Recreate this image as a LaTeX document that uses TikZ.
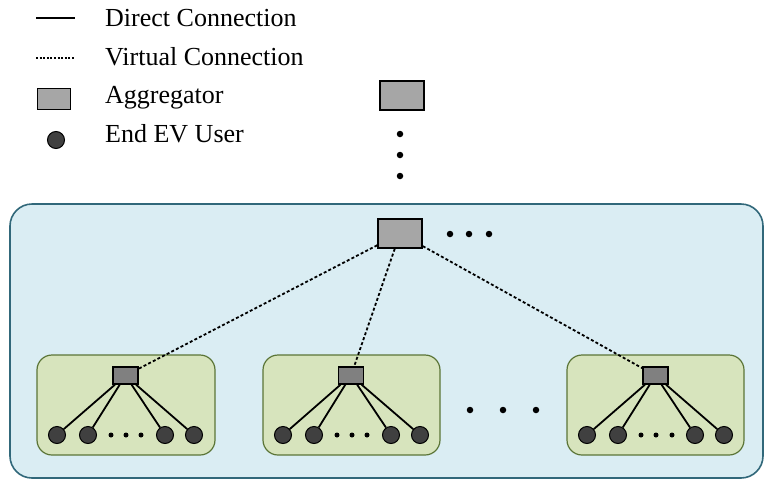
\documentclass[tikz,border=0pt]{standalone}
\usepackage{fontspec}
\setmainfont{Liberation Serif}
\newfontfamily\legfont{Liberation Serif}
\definecolor{clusterfill}{HTML}{DAEDF3}
\definecolor{clusterline}{HTML}{31687A}
\definecolor{groupfill}{HTML}{D7E4BD}
\definecolor{groupline}{HTML}{5B7537}
\begin{document}
\begin{tikzpicture}[x=1pt,y=-1pt,
  cluster/.style={draw=clusterline, fill=clusterfill, line width=1.6pt, rounded corners=22pt},
  group/.style={draw=groupline, fill=groupfill, line width=1.2pt, rounded corners=15pt},
  bigagg/.style={draw=black, fill=black!35, line width=1.6pt, minimum width=44pt, minimum height=29pt, inner sep=0pt},
  smallagg/.style={draw=black, fill=black!50, line width=1.3pt, minimum width=25pt, minimum height=17pt, inner sep=0pt},
  user/.style={circle, draw=black, fill=black!75, line width=1pt, minimum size=17pt, inner sep=0pt},
  pt/.style={circle, fill=black, minimum size=6.5pt, inner sep=0pt},
  direct/.style={draw=black, line width=1.8pt},
  virtual/.style={draw=black, line width=1.8pt, dash pattern=on 3pt off 2.2pt},
  legtext/.style={anchor=base west, inner sep=0pt, font=\legfont\fontsize{26}{30}\selectfont}
]
\useasboundingbox (0,0) rectangle (764,480);

% legend
\coordinate (l1a) at (36,18); \coordinate (l1b) at (75,18);
\draw[direct] (l1a) -- (l1b);
\coordinate (l2a) at (36,58); \coordinate (l2b) at (75,58);
\draw[direct, line width=1.5pt, dash pattern=on 2pt off 1.6pt] (l2a) -- (l2b);
\node[bigagg, minimum width=33pt, minimum height=21pt] (legagg) at (54,99) {};
\node[user] (leguser) at (56,140) {};
\node[legtext] (t1) at (105,26) {Direct Connection};
\node[legtext] (t2) at (105,65) {Virtual Connection};
\node[legtext] (t3) at (105,103) {Aggregator};
\node[legtext] (t4) at (105,142) {End EV User};

% upper aggregator with vertical ellipsis
\node[bigagg] (upper) at (402,95.5) {};
\node[pt] (v1) at (400,134) {};
\node[pt] (v2) at (400,155) {};
\node[pt] (v3) at (400,176) {};

% cluster
\draw[cluster] (10,204) rectangle (763,478);
\node[bigagg] (top) at (400,233.5) {};
\node[pt] (h1) at (450,234) {};
\node[pt] (h2) at (469,234) {};
\node[pt] (h3) at (489,234) {};

% groups
\draw[group] (37,355) rectangle (215,455);
\draw[group] (263,355) rectangle (440,455);
\draw[group] (567,355) rectangle (744,455);

\node[pt] (m1) at (470,410) {};
\node[pt] (m2) at (503,410) {};
\node[pt] (m3) at (536,410) {};

\foreach \g/\ax/\ua/\ub/\uc/\ud/\da/\db/\dc in {
   a/125.5/57/88/165/194/111/126/141,
   b/351/283/314/391/420/337/352/367,
   c/655.5/587/618/695/724/641/656/672} {
  \node[smallagg] (\g agg) at (\ax,375.5) {};
  \node[user] (\g u1) at (\ua,435) {};
  \node[user] (\g u2) at (\ub,435) {};
  \node[user] (\g u3) at (\uc,435) {};
  \node[user] (\g u4) at (\ud,435) {};
  \node[pt, minimum size=5pt] (\g d1) at (\da,435) {};
  \node[pt, minimum size=5pt] (\g d2) at (\db,435) {};
  \node[pt, minimum size=5pt] (\g d3) at (\dc,435) {};
  \foreach \k in {1,2,3,4} { \draw[direct] (\g agg) -- (\g u\k); }
  \draw[virtual] (top) -- (\g agg);
}
\end{tikzpicture}
\end{document}
